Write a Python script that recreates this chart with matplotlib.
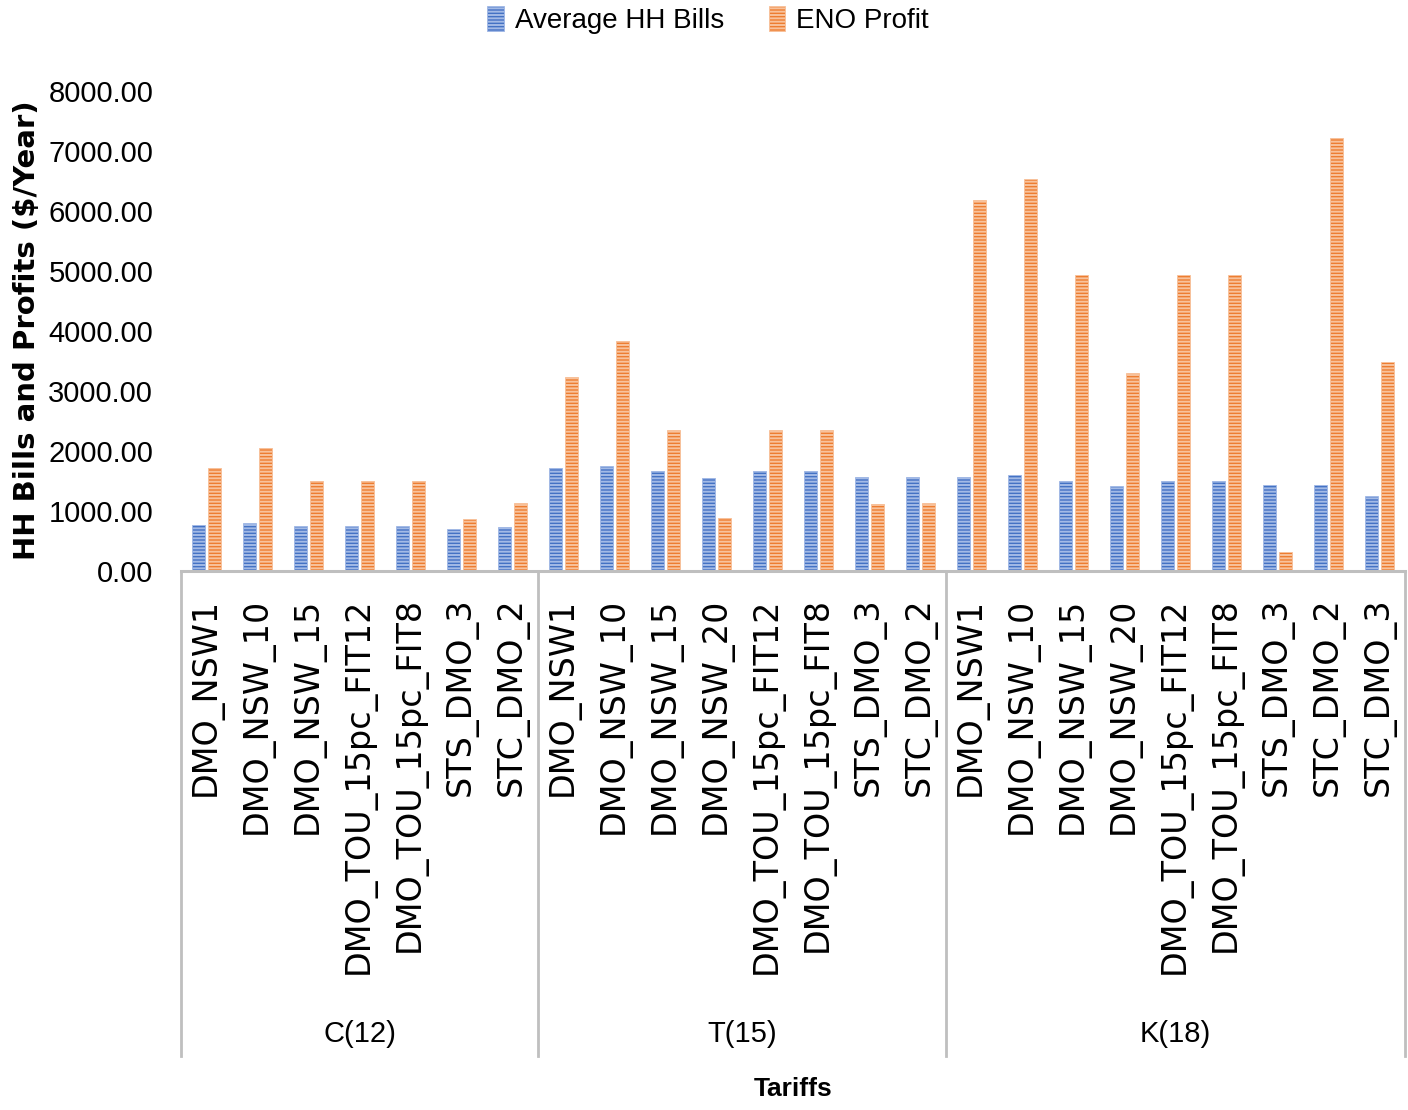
import numpy as np
import matplotlib
matplotlib.use("Agg")
import matplotlib.pyplot as plt
from matplotlib.patches import Patch
import matplotlib.transforms as mtransforms

# data
groups = ["C(12)", "T(15)", "K(18)"]
group_tariffs = [
    ["DMO_NSW1", "DMO_NSW_10", "DMO_NSW_15", "DMO_TOU_15pc_FIT12",
     "DMO_TOU_15pc_FIT8", "STS_DMO_3", "STC_DMO_2"],
    ["DMO_NSW1", "DMO_NSW_10", "DMO_NSW_15", "DMO_NSW_20",
     "DMO_TOU_15pc_FIT12", "DMO_TOU_15pc_FIT8", "STS_DMO_3", "STC_DMO_2"],
    ["DMO_NSW1", "DMO_NSW_10", "DMO_NSW_15", "DMO_NSW_20",
     "DMO_TOU_15pc_FIT12", "DMO_TOU_15pc_FIT8", "STS_DMO_3", "STC_DMO_2", "STC_DMO_3"],
]
hh_bills = [767, 795, 745, 745, 745, 700, 728,
            1712, 1750, 1667, 1550, 1667, 1667, 1572, 1572,
            1572, 1600, 1500, 1412, 1500, 1500, 1428, 1428, 1250]
eno_profit = [1712, 2045, 1500, 1500, 1500, 862, 1133,
              3238, 3833, 2350, 883, 2350, 2350, 1117, 1133,
              6183, 6528, 4928, 3305, 4928, 4928, 312, 7212, 3488]
yticks = [0, 1000, 2000, 3000, 4000, 5000, 6000, 7000, 8000]

NARROW = ["Liberation Sans", "DejaVu Sans"]
BLUE, BLUE_L = "#4472C4", "#A3BAE6"
ORANGE, ORANGE_L = "#ED7D31", "#F8C29C"
plt.rcParams["hatch.linewidth"] = 1.4

labels = [t for g in group_tariffs for t in g]
x = np.arange(len(labels))

fig = plt.figure(figsize=(14.08, 11.10), dpi=100)
ax = fig.add_axes([181 / 1408, 1 - 571 / 1110, 1224 / 1408, 480 / 1110])

w = 0.26
ax.bar(x - 0.16, hh_bills, w, color=BLUE, edgecolor=BLUE_L, linewidth=0.6, hatch="-----")
ax.bar(x + 0.16, eno_profit, w, color=ORANGE, edgecolor=ORANGE_L, linewidth=0.6, hatch="-----")

ax.set_xlim(-0.5, len(labels) - 0.5)
ax.set_ylim(0, 8000)
ax.set_yticks(yticks)
ax.set_yticklabels([f"{v:.2f}" for v in yticks], fontsize=21, family=NARROW)
ax.tick_params(axis="y", length=0, pad=20)
ax.set_xticks(x)
ax.set_xticklabels(labels, rotation=90, fontsize=24, family="DejaVu Sans")
ax.tick_params(axis="x", length=0, pad=19)

for s in ["left", "right", "top"]:
    ax.spines[s].set_visible(False)
ax.spines["bottom"].set_color("#BFBFBF")
ax.spines["bottom"].set_linewidth(2.2)

# group separators and group names below the tick labels
trans = mtransforms.blended_transform_factory(ax.transData, ax.transAxes)
start = 0
bounds = [-0.5]
for g, tariffs in zip(groups, group_tariffs):
    end = start + len(tariffs)
    bounds.append(end - 0.5)
    ax.text((start + end - 1) / 2, -0.965, g, transform=trans, ha="center", va="center",
            fontsize=21, family=NARROW)
    start = end
for b in bounds:
    ax.plot([b, b], [0, -1.01], transform=trans, color="#BFBFBF", linewidth=2, clip_on=False)

ax.text(0.5, -1.08, "Tariffs", transform=ax.transAxes, ha="center", va="center",
        fontsize=19, fontweight="bold", family=NARROW)
fig.text(27 / 1408, 1 - 330 / 1110, "HH Bills and Profits ($/Year)", rotation=90,
         ha="center", va="center", fontsize=21, fontweight="bold", family="DejaVu Sans")

handles = [Patch(facecolor=BLUE, edgecolor=BLUE_L, hatch="-----", linewidth=0.6),
           Patch(facecolor=ORANGE, edgecolor=ORANGE_L, hatch="-----", linewidth=0.6)]
fig.legend(handles, ["Average HH Bills", "ENO Profit"], loc="center",
           bbox_to_anchor=(708 / 1408, 1 - 20 / 1110), ncol=2, frameon=False,
           prop={"family": NARROW, "size": 20}, handlelength=0.6, handleheight=1.0,
           handletextpad=0.4, columnspacing=1.6)

fig.savefig("out.png", dpi=100)
